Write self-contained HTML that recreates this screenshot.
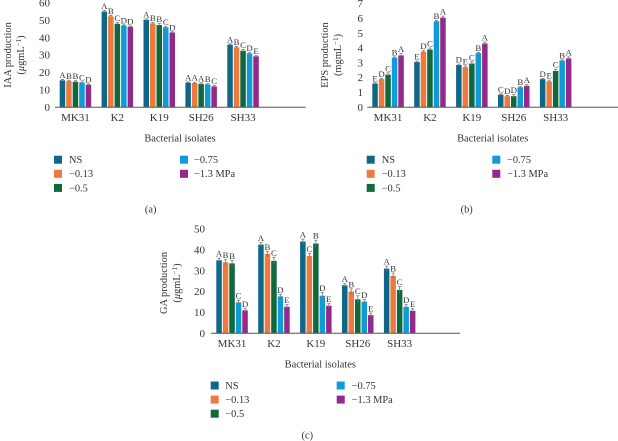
<!DOCTYPE html>
<html>
<head>
<meta charset="utf-8">
<title>Bacterial isolates production charts</title>
<style>
html,body{margin:0;padding:0;background:#fff;}
svg{display:block;filter:blur(0.3px);}
text{font-family:"Liberation Serif",serif;fill:#333;}
</style>
</head>
<body>
<svg id="figure" width="618" height="441" viewBox="0 0 618 441" xmlns="http://www.w3.org/2000/svg"></svg>
<script>
const categories = ['MK31', 'K2', 'K19', 'SH26', 'SH33'];
const seriesNames = ['NS', '\u22120.13', '\u22120.5', '\u22120.75', '\u22121.3 MPa'];
const seriesColors = ['#0f6788', '#ec7a3f', '#0f693c', '#0f9bd7', '#93298b'];

const iaaTicks = [0, 10, 20, 30, 40, 50, 60];
const iaaValues = [
  [15.5, 15, 14.7, 14.2, 13],
  [55, 52.3, 48, 47, 46.3],
  [50.3, 48.2, 47.3, 46, 43],
  [14.2, 14, 13.5, 13.2, 12],
  [36, 34.5, 32.5, 31, 29.3]
];
const iaaErrors = [
  [0.5, 0.5, 0.6, 0.4, 0.4],
  [0.6, 0.5, 0.8, 0.4, 0.4],
  [0.5, 0.5, 0.8, 0.5, 0.4],
  [0.4, 0.4, 0.6, 0.4, 0.6],
  [0.5, 0.5, 0.8, 0.5, 0.4]
];
const iaaLetters = [
  ['A', 'B', 'B', 'C', 'D'],
  ['A', 'B', 'C', 'D', 'D'],
  ['A', 'B', 'B', 'C', 'D'],
  ['A', 'A', 'A', 'B', 'C'],
  ['A', 'B', 'C', 'D', 'E']
];

const epsTicks = [0, 1, 2, 3, 4, 5, 6, 7];
const epsValues = [
  [1.6, 1.9, 2.2, 3.35, 3.5],
  [3.05, 3.75, 3.9, 5.8, 6.05],
  [2.85, 2.7, 2.95, 3.65, 4.3],
  [0.85, 0.75, 0.75, 1.35, 1.45],
  [1.9, 1.75, 2.45, 3.15, 3.3]
];
const epsErrors = [
  [0.05, 0.05, 0.12, 0.05, 0.12],
  [0.06, 0.08, 0.1, 0.05, 0.1],
  [0.06, 0.08, 0.12, 0.05, 0.1],
  [0.05, 0.05, 0.12, 0.04, 0.08],
  [0.05, 0.08, 0.12, 0.05, 0.1]
];
const epsLetters = [
  ['E', 'D', 'C', 'B', 'A'],
  ['E', 'D', 'C', 'B', 'A'],
  ['D', 'E', 'C', 'B', 'A'],
  ['C', 'D', 'D', 'B', 'A'],
  ['D', 'E', 'C', 'B', 'A']
];

const gaTicks = [0, 10, 20, 30, 40, 50];
const gaValues = [
  [35, 34, 33.5, 14.8, 11],
  [42.5, 38, 34.7, 17.7, 12.7],
  [44, 37, 43, 18, 13.2],
  [23, 20, 16.3, 15.2, 8.7],
  [31, 27.5, 20.8, 12.7, 10.8]
];
const gaErrors = [
  [1, 1.3, 1.4, 1.1, 1],
  [1.1, 1.3, 1.7, 1, 1],
  [1.1, 1.3, 1.6, 1.6, 1],
  [0.8, 1.3, 1.7, 1, 1],
  [1.2, 1.4, 1.7, 1, 1]
];
const gaLetters = [
  ['A', 'B', 'B', 'C', 'D'],
  ['A', 'B', 'C', 'D', 'E'],
  ['A', 'C', 'B', 'D', 'E'],
  ['A', 'B', 'C', 'D', 'E'],
  ['A', 'B', 'C', 'D', 'E']
];

const NS = 'http://www.w3.org/2000/svg';
const root = document.getElementById('figure');

function make(tag, attrs, parent, txt) {
  const el = document.createElementNS(NS, tag);
  for (const k in attrs) el.setAttribute(k, attrs[k]);
  if (txt !== undefined) el.textContent = txt;
  parent.appendChild(el);
  return el;
}

function drawChart(cfg) {
  const g = make('g', {}, root);
  
  

  const yScale = function (v) { return cfg.y0 - v * cfg.pxPerUnit; };
  const xScale = function (c, s) { return cfg.x0 + c * 41.9 + s * 6.5; };

  cfg.ticks.forEach(function (t) {
    const el = make('text', { x: cfg.tickRight, y: yScale(t) + 3.6, 'text-anchor': 'end', 'font-size': 11 }, g, t);
    
    
  });

  cfg.values.forEach(function (group, c) {
    group.forEach(function (v, s) {
      const x = xScale(c, s);
      const y = yScale(v);
      const bar = make('rect', { x: x, y: y, width: 5.5, height: cfg.y0 - y, fill: seriesColors[s] }, g);
      
      

      const e = cfg.errors[c][s];
      const top = yScale(v + e);
      const bot = yScale(v - e);
      const cx = x + 2.75;
      const err = make('path', {
        d: 'M' + (cx - 1.6) + ' ' + top + 'H' + (cx + 1.6) + 'M' + cx + ' ' + top + 'V' + bot,
        stroke: '#777', 'stroke-width': 0.8, fill: 'none'
      }, g);
      
      

      const lab = make('text', { x: cx, y: top - 1.5, 'text-anchor': 'middle', 'font-size': 8.8 }, g, cfg.letters[c][s]);
      
      
    });
    const catLabel = make('text', { x: xScale(c, 2) + 2.75, y: cfg.y0 + 13.8, 'text-anchor': 'middle', 'font-size': 11 }, g, categories[c]);
    
    
  });

  const axis = make('line', { x1: cfg.axisL, x2: cfg.axisR, y1: cfg.y0, y2: cfg.y0, stroke: '#555', 'stroke-width': 1 }, g);
  
  

  const xTitle = make('text', { x: cfg.xTitleX, y: cfg.y0 + 34.2, 'text-anchor': 'middle', 'font-size': 10.4 }, g, 'Bacterial isolates');
  
  

  const yMid = cfg.yTitleMid;
  const t1 = make('text', { transform: 'translate(' + cfg.yTitleX1 + ' ' + yMid + ') rotate(-90)', 'text-anchor': 'middle', 'font-size': 10.4 }, g, cfg.title);
  
  

  const t2 = make('text', { transform: 'translate(' + cfg.yTitleX2 + ' ' + yMid + ') rotate(-90)', 'text-anchor': 'middle', 'font-size': 10.4 }, g);
  
  
  make('tspan', {}, t2, '(');
  if (cfg.micro) make('tspan', { 'font-style': 'italic' }, t2, '\u03bc');
  make('tspan', {}, t2, cfg.micro ? 'gmL' : 'mgmL');
  make('tspan', { dy: -3, 'font-size': 7 }, t2, '\u22121');
  make('tspan', { dy: 3 }, t2, ')');

  const rows = [0, 1, 2, 0, 1];
  seriesNames.forEach(function (name, s) {
    const col = s < 3 ? 0 : 1;
    const sx = col === 0 ? cfg.legX1 : cfg.legX2;
    const tx = col === 0 ? cfg.legT1 : cfg.legT2;
    const cy = cfg.legY + rows[s] * 14.1;
    const sw = make('rect', { x: sx, y: cy - 4, width: 8, height: 8, fill: seriesColors[s] }, g);
    
    
    const lt = make('text', { x: tx, y: cy + 3.4, 'font-size': 10.4 }, g, name);
    
    
  });

  const cap = make('text', { x: cfg.capX, y: cfg.capY, 'text-anchor': 'middle', 'font-size': 10.4 }, g, cfg.caption);
  
  
}

drawChart({
  key: 'iaa', ticks: iaaTicks, values: iaaValues, errors: iaaErrors, letters: iaaLetters,
  y0: 107.3, pxPerUnit: 1.74, x0: 59.7, axisL: 55, axisR: 305.7, tickRight: 50,
  xTitleX: 180, title: 'IAA production', micro: true, yTitleX1: 11, yTitleX2: 24, yTitleMid: 55,
  legX1: 54, legX2: 180, legT1: 69, legT2: 194, legY: 159.7, capX: 150.7, capY: 212.5, caption: '(a)'
});
drawChart({
  key: 'eps', ticks: epsTicks, values: epsValues, errors: epsErrors, letters: epsLetters,
  y0: 107.3, pxPerUnit: 14.83, x0: 372.3, axisL: 367.3, axisR: 618, tickRight: 363,
  xTitleX: 492.7, title: 'EPS production', micro: false, yTitleX1: 328, yTitleX2: 341, yTitleMid: 55,
  legX1: 366.7, legX2: 492.3, legT1: 381.7, legT2: 507, legY: 159.7, capX: 466.7, capY: 212.5, caption: '(b)'
});
drawChart({
  key: 'ga', ticks: gaTicks, values: gaValues, errors: gaErrors, letters: gaLetters,
  y0: 333.3, pxPerUnit: 2.087, x0: 216.3, axisL: 211, axisR: 460, tickRight: 205,
  xTitleX: 320.3, title: 'GA production', micro: true, yTitleX1: 167, yTitleX2: 180, yTitleMid: 283,
  legX1: 210.7, legX2: 336.7, legT1: 225.3, legT2: 351.7, legY: 385.5, capX: 307.3, capY: 438.5, caption: '(c)'
});
</script>
</body>
</html>
